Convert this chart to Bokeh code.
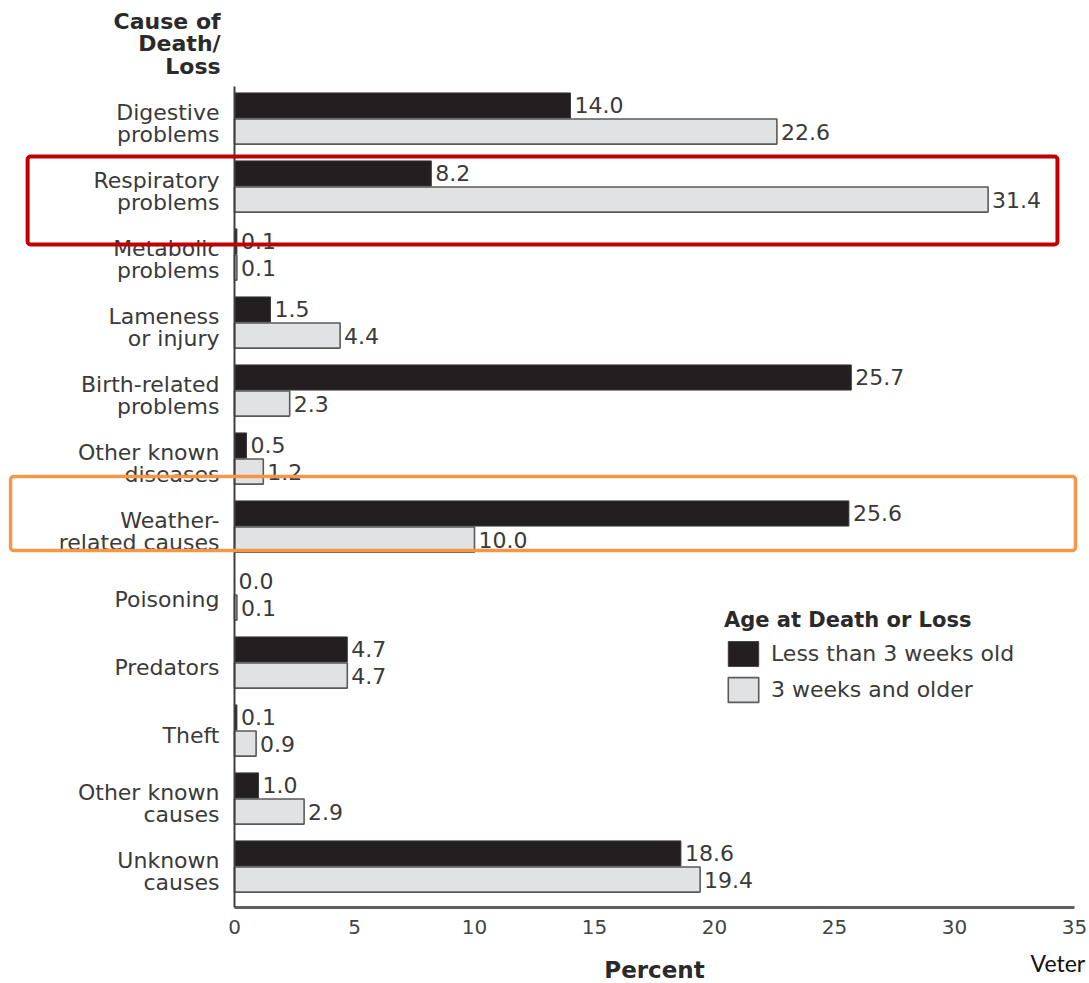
from bokeh.plotting import figure
from bokeh.models import (ColumnDataSource, Range1d, FixedTicker, Label,
                          BoxAnnotation, Legend, LegendItem, LinearAxis)
from bokeh.core.properties import value
from bokeh.embed import file_html
from bokeh.resources import INLINE

# Cause of death / loss categories, top to bottom
causes = ["Digestive\nproblems", "Respiratory\nproblems", "Metabolic\nproblems",
          "Lameness\nor injury", "Birth-related\nproblems", "Other known\ndiseases",
          "Weather-\nrelated causes", "Poisoning", "Predators", "Theft",
          "Other known\ncauses", "Unknown\ncauses"]

# Percent of deaths/losses by age group
under_3_weeks = [14.0, 8.2, 0.1, 1.5, 25.7, 0.5, 25.6, 0.0, 4.7, 0.1, 1.0, 18.6]
over_3_weeks = [22.6, 31.4, 0.1, 4.4, 2.3, 1.2, 10.0, 0.1, 4.7, 0.9, 2.9, 19.4]

x_ticks = [0, 5, 10, 15, 20, 25, 30, 35]
series_names = ["Less than 3 weeks old", "3 weeks and older"]

FONT = "DejaVu Sans"
TEXT_COLOR = "#3a3a3a"

idx = list(range(len(causes)))
off_a, off_b, bh = -0.265, 0.118, 0.37   # bar offsets from each category tick
y_bottom, y_top = 11.53, -0.545          # extent of the value axes

src_a = ColumnDataSource(dict(y=[i + off_a for i in idx], v=under_3_weeks,
                              lab=[f"{v:.1f}" for v in under_3_weeks]))
src_b = ColumnDataSource(dict(y=[i + off_b for i in idx], v=over_3_weeks,
                              lab=[f"{v:.1f}" for v in over_3_weeks]))

# the frame fills the whole canvas; axes are pinned inside it
p = figure(width=1089, height=983, output_backend="svg", toolbar_location=None,
           x_range=Range1d(-9.75, 35.625), y_range=Range1d(12.647, -1.809),
           x_axis_location=None, y_axis_location=None, min_border=0)
p.outline_line_color = None
p.grid.visible = False
p.background_fill_color = "white"
p.border_fill_color = "white"

r_a = p.hbar(y="y", right="v", left=0, height=bh, source=src_a,
             fill_color="#231f20", line_color="#3a3a3a", line_width=1)
r_b = p.hbar(y="y", right="v", left=0, height=bh, source=src_b,
             fill_color="#e1e2e4", line_color="#5a5a5a", line_width=1.6)

for s in (src_a, src_b):
    p.text(x="v", y="y", text="lab", source=s, x_offset=4,
           text_align="left", text_baseline="middle",
           text_font=value(FONT), text_font_size="22px", text_color=TEXT_COLOR)

# x axis
xa = LinearAxis(fixed_location=y_bottom, bounds=(0, 35))
xa.ticker = FixedTicker(ticks=x_ticks)
xa.major_tick_line_color = None
xa.minor_tick_line_color = None
xa.axis_line_color = "#606060"
xa.axis_line_width = 3
xa.major_label_text_font = FONT
xa.major_label_text_font_size = "20px"
xa.major_label_text_color = "#444444"
xa.major_label_standoff = 6
xa.axis_label = "Percent"
xa.axis_label_text_font = FONT
xa.axis_label_text_font_style = "bold"
xa.axis_label_text_font_size = "23px"
xa.axis_label_text_color = "#2a2a2a"
xa.axis_label_standoff = 20
p.add_layout(xa, "below")

# y axis with category names
ya = LinearAxis(fixed_location=0, bounds=(y_top, y_bottom))
ya.ticker = FixedTicker(ticks=idx)
ya.major_label_overrides = {i: c for i, c in zip(idx, causes)}
ya.major_tick_line_color = None
ya.minor_tick_line_color = None
ya.axis_line_color = "#404040"
ya.axis_line_width = 2
ya.major_label_text_font = FONT
ya.major_label_text_font_size = "22px"
ya.major_label_text_color = TEXT_COLOR
ya.major_label_text_line_height = 0.85
ya.major_label_standoff = 9
p.add_layout(ya, "left")

# heading over the category names
p.add_layout(Label(x=-0.58, y=-1.69, text="Cause of\nDeath/\nLoss",
                   text_align="right", text_baseline="top",
                   text_font=FONT, text_font_style="bold",
                   text_font_size="22px", text_color="#2a2a2a",
                   text_line_height=0.9))

# legend
legend = Legend(items=[LegendItem(label=series_names[0], renderers=[r_a]),
                       LegendItem(label=series_names[1], renderers=[r_b])],
                location=(724, 278), title="Age at Death or Loss",
                glyph_width=38, glyph_height=31, spacing=5, padding=0,
                margin=0, label_standoff=9,
                label_text_font=FONT, label_text_font_size="22px",
                label_text_color=TEXT_COLOR,
                title_text_font=FONT, title_text_font_style="bold",
                title_text_font_size="21px", title_text_color="#2a2a2a",
                title_standoff=6,
                border_line_color=None, background_fill_alpha=0)
p.add_layout(legend)

# highlight frames around selected causes
def highlight(i, top, bottom, left, right, color, width):
    p.add_layout(BoxAnnotation(left=left, right=right, top=i + top, bottom=i + bottom,
                               fill_alpha=0, line_color=color, line_width=width,
                               line_alpha=1, border_radius=3))

highlight(1, -0.515, 0.779, -8.62, 34.29, "#c00000", 4)
highlight(6, -0.809, 0.279, -9.33, 35.04, "#f79646", 3.5)

p.add_layout(Label(x=33.17, y=12.34, text="Veter", text_align="left",
                   text_baseline="middle", text_font="Lato",
                   text_font_size="23px", text_color="#111111"))

open("out.html", "w").write(file_html(p, INLINE))
